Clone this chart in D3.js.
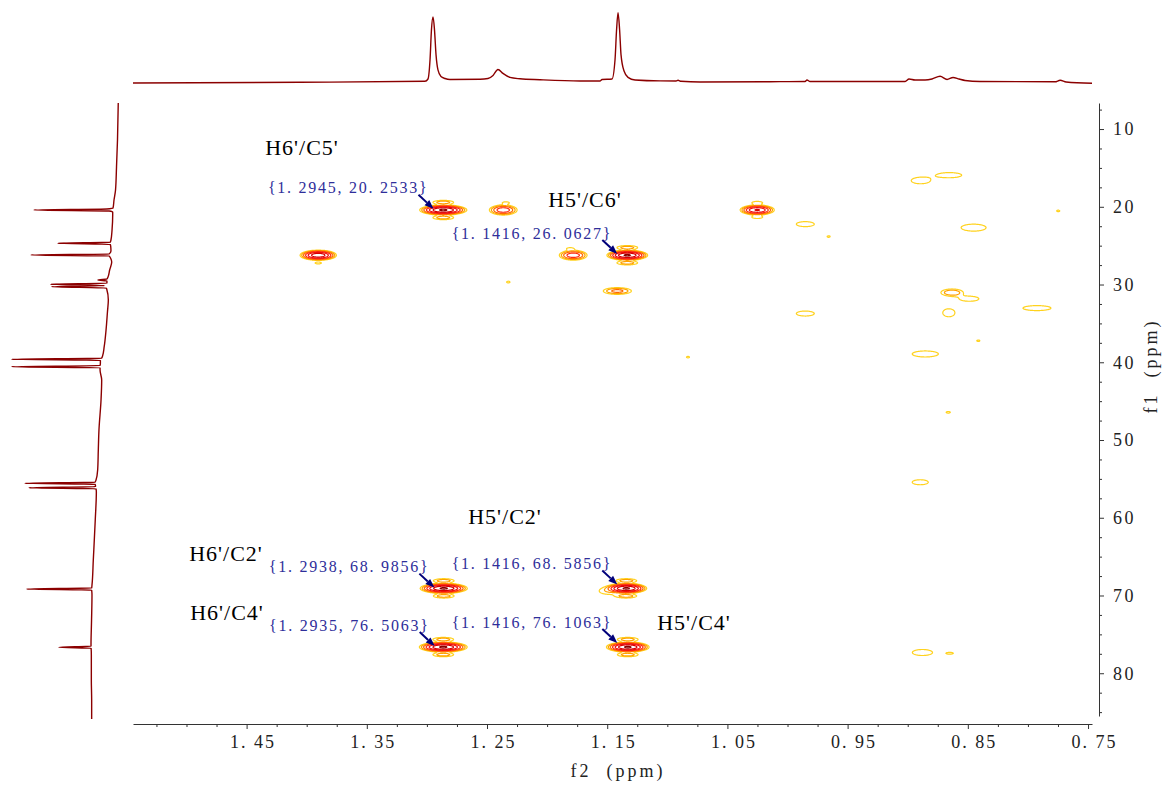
<!DOCTYPE html>
<html>
<head>
<meta charset="utf-8">
<script src="https://cdn.jsdelivr.net/npm/d3@7/dist/d3.min.js"></script>
<style>
  body { margin: 0; background: #fff; }
  svg { display: block; }
</style>
</head>
<body>
<svg id="chart" width="1166" height="787"></svg>
<script>
// ---- f2 (1H) projection on top: ppm / relative intensity ----
const topPpm = [1.5445, 1.4056, 1.3016, 1.2991, 1.2974, 1.2962, 1.2949, 1.2937, 1.2924, 1.2908,
  1.2883, 1.2849, 1.2808, 1.2558, 1.2492, 1.2450, 1.2409, 1.2367, 1.2309, 1.2226, 1.2059, 1.1726,
  1.1560, 1.1543, 1.1460, 1.1435, 1.1422, 1.1410, 1.1397, 1.1385, 1.1360, 1.1327, 1.1268, 1.1060,
  1.0927, 1.0911, 1.0886, 1.0728, 1.0062, 0.9854, 0.9838, 0.9813, 0.9022, 0.8989, 0.8939, 0.8856,
  0.8798, 0.8731, 0.8673, 0.8623, 0.8573, 0.8523, 0.8398, 0.7774, 0.7732, 0.7682, 0.7467];
const topInt = [0, 1, 2.5, 5.7, 33, 76, 94, 76, 40, 18.6,
  9.3, 6.4, 5, 5.3, 6.4, 10.7, 19.3, 13.6, 7.9, 6, 4.6, 2.9,
  2.9, 5, 5.7, 33, 76, 100, 76, 40, 17, 8, 4.3, 3,
  2.9, 3.9, 2.4, 1.4, 1.9, 2.1, 4.3, 2.1, 2.1, 5.7, 4.3, 4.3,
  5.7, 9.6, 5, 7.9, 5.7, 3.6, 2.1, 1.7, 3.9, 1.4, -0.4];

// ---- f1 (13C) projection on the left: ppm / relative intensity ----
const sidePpm = [6.65, 11.41, 14.88, 17.84, 19.13, 20.16, 20.28, 20.41, 20.54, 20.67, 21.06, 22.99,
  24.27, 24.57, 24.70, 24.83, 25.11, 25.69, 26.07, 26.20, 26.33, 26.65, 27.10, 28.13, 29.03, 29.29,
  29.42, 29.55, 29.84, 29.97, 30.13, 30.28, 30.45, 30.58, 31.99, 33.5, 35.85, 38.0, 39.19, 39.49,
  39.62, 39.75, 40.09, 40.44, 40.57, 40.70, 40.99, 42.28, 44.85, 48.71, 51.28, 53.86, 55.14, 55.44,
  55.57, 55.70, 55.85, 56.01, 56.14, 56.27, 56.69, 60.29, 65.44, 68.66, 69.04, 69.17, 69.30, 69.94,
  73.16, 76.37, 76.53, 76.66, 76.79, 77.64, 80.86, 83.43, 85.88];
const sideInt = [1.6, 2.3, 3.2, 4.1, 5.5, 6.4, 12, 79, 10, 6.7, 6.7, 7.3,
  8.3, 9, 57, 9, 8.5, 8.3, 10, 81.7, 10, 8.5, 7.6, 9.5, 11, 12,
  20.2, 12, 12, 63.6, 14, 62.7, 12.5, 12.2, 10.7, 11.5, 12.8, 14.5, 16, 17,
  99.4, 18, 18, 18.3, 99.4, 18.3, 18.3, 16.8, 17.4, 19.3, 19.9, 20.5, 22, 23,
  87.2, 23, 22.5, 22.5, 83.5, 22, 21.7, 22.7, 24.5, 25.7, 26, 85.6, 26, 25.7,
  26.1, 26.6, 26.6, 56, 26.5, 26.3, 26.3, 26, 26];

// ---- 2D cross peaks: f2 ppm, f1 ppm, height, f2 width, f1 width ----
const peakH = [
  // main cross peaks
  1.2866, 1.2367, 1.0254, 1.3906, 1.1785, 1.1335, 1.1418, 1.2862, 1.1343, 1.2866, 1.1331,
  // t1 side lobes
  1.2866, 1.2866, 1.1335, 1.1335, 1.2862, 1.2862, 1.1343, 1.1343, 1.2866, 1.2866, 1.1331, 1.1331,
  1.0254, 1.0254, 1.2345, 1.1810, 1.3906,
  // weak signals
  0.8895, 0.8655, 0.7750, 0.8454, 0.9854, 0.9660, 0.8634, 0.8490, 0.8660, 0.7927, 0.9854, 0.8415,
  0.8856, 1.0830, 0.8665, 0.8898, 0.8880, 0.8650, 1.2325, 1.1500];
const peakC = [
  20.38, 20.38, 20.38, 26.20, 26.20, 26.20, 30.80, 69.05, 69.05, 76.60, 76.60,
  19.40, 21.36, 25.22, 27.18, 68.07, 70.03, 68.07, 70.03, 75.62, 77.58, 75.62, 77.58,
  19.45, 21.30, 19.45, 25.35, 27.20,
  16.6, 15.9, 20.5, 22.65, 22.2, 23.8, 31.0, 31.8, 33.6, 33.0, 33.7, 37.2,
  38.9, 39.3, 46.4, 55.4, 77.3, 77.4, 29.65, 69.4];
const peakAmp = [
  37, 9, 20, 30, 9, 37, 4, 37, 37, 37, 37,
  2.6, 2.6, 2.6, 2.6, 2.6, 2.6, 2.6, 2.6, 2.6, 2.6, 2.6, 2.6,
  1.6, 1.6, 1.3, 1.3, 1.3,
  1.6, 1.6, 1.08, 1.6, 1.6, 1.08, 3.0, 1.6, 1.6, 1.6, 1.6, 1.08,
  1.6, 1.08, 1.15, 1.6, 1.6, 1.15, 1.1, 1.6];
const peakWH = [
  0.0073, 0.0055, 0.0058, 0.0058, 0.0055, 0.0063, 0.0070, 0.0073, 0.0063, 0.0074, 0.0066,
  0.0062, 0.0062, 0.0062, 0.0062, 0.0062, 0.0062, 0.0062, 0.0062, 0.0062, 0.0062, 0.0062, 0.0062,
  0.0045, 0.0045, 0.0035, 0.0035, 0.0035,
  0.0080, 0.0105, 0.0032, 0.0107, 0.0077, 0.0032, 0.0062, 0.0082, 0.0052, 0.0120, 0.0077, 0.0032,
  0.0112, 0.0032, 0.0032, 0.0069, 0.0086, 0.0047, 0.0032, 0.0069];
const peakWC = [
  0.24, 0.31, 0.26, 0.25, 0.30, 0.24, 0.26, 0.24, 0.24, 0.24, 0.24,
  0.19, 0.19, 0.19, 0.19, 0.19, 0.19, 0.19, 0.19, 0.19, 0.19, 0.19, 0.19,
  0.18, 0.18, 0.16, 0.16, 0.16,
  0.42, 0.34, 0.25, 0.46, 0.33, 0.25, 0.31, 0.33, 0.53, 0.33, 0.33, 0.25,
  0.40, 0.25, 0.20, 0.33, 0.40, 0.20, 0.25, 0.40];

const levels = [1, 1.8, 3.2, 5.8, 10.5, 19, 34];
const levelColors = ["#ffd21e", "#ffa200", "#ff6a00", "#ff2a10", "#f01010", "#d80000", "#8b0000"];

// ---- annotations ----
const tagText = ["H6'/C5'", "H5'/C6'", "H5'/C2'", "H6'/C2'", "H6'/C4'", "H5'/C4'"];
const tagH = [1.4039, 1.1685, 1.2350, 1.4671, 1.4663, 1.0778];
const tagC = [12.31, 19.00, 59.78, 64.54, 72.13, 73.41];
const markH = [1.2945, 1.1416, 1.2938, 1.1416, 1.2935, 1.1416];
const markC = [20.2533, 26.0627, 68.9856, 68.5856, 76.5063, 76.1063];

const xMajor = [1.45, 1.35, 1.25, 1.15, 1.05, 0.95, 0.85, 0.75];
const yMajor = [10, 20, 30, 40, 50, 60, 70, 80];

const svg = d3.select("#chart");
const x = d3.scaleLinear().domain([1.5445, 0.7467]).range([133, 1092]);
const y = d3.scaleLinear().domain([6.65, 85.5]).range([103, 716]);
const topY = d3.scaleLinear().domain([0, 100]).range([83, 12.7]);
const sideX = d3.scaleLinear().domain([0, 100]).range([120, 11]);

const xMinor = d3.range(0, 32).map(i => +(1.525 - i * 0.025).toFixed(3)).filter(v => xMajor.indexOf(v) < 0);
const yMinor = d3.range(0, 32).map(i => 7.5 + i * 2.5).filter(v => v <= 85 && yMajor.indexOf(v) < 0);
const fmtX = d => d3.format(".2f")(d).replace(".", ". ");
const fmtX4 = v => d3.format(".4f")(v).replace(".", ". ");

const serif = "'Liberation Serif', 'DejaVu Serif', serif";

// ---- projections ----
svg.append("path")
  .datum(d3.zip(topPpm, topInt))
  .attr("fill", "none")
  .attr("stroke", "#8b0000")
  .attr("stroke-width", 1.4)
  .attr("d", d3.line().x(d => x(d[0])).y(d => topY(d[1])).curve(d3.curveMonotoneX));

svg.append("path")
  .datum(d3.zip(sidePpm, sideInt))
  .attr("fill", "none")
  .attr("stroke", "#8b0000")
  .attr("stroke-width", 1.4)
  .attr("d", d3.line().x(d => sideX(d[1])).y(d => y(d[0])).curve(d3.curveMonotoneY));

// ---- contour map ----
const k = 2, gx0 = 133, gy0 = 103;
const nx = (1092 - gx0) * k, ny = (716 - gy0) * k;
const grid = new Float64Array(nx * ny);
peakH.forEach((h, p) => {
  const cx = x(h), cy = y(peakC[p]);
  const sx = Math.abs(x(h + peakWH[p]) - cx);
  const sy = Math.abs(y(peakC[p] + peakWC[p]) - cy);
  const i0 = Math.max(0, Math.floor((cx - 4 * sx - gx0) * k));
  const i1 = Math.min(nx - 1, Math.ceil((cx + 4 * sx - gx0) * k));
  const j0 = Math.max(0, Math.floor((cy - 4 * sy - gy0) * k));
  const j1 = Math.min(ny - 1, Math.ceil((cy + 4 * sy - gy0) * k));
  for (let j = j0; j <= j1; j++) {
    const dy = (gy0 + j / k - cy) / sy;
    for (let i = i0; i <= i1; i++) {
      const dx = (gx0 + i / k - cx) / sx;
      grid[j * nx + i] += peakAmp[p] * Math.exp(-0.5 * (dx * dx + dy * dy));
    }
  }
});
const contours = d3.contours().size([nx, ny]).thresholds(levels)(grid);
const cpath = d3.geoPath(d3.geoIdentity().scale(1 / k).translate([gx0, gy0]));
svg.append("g")
  .selectAll("path")
  .data(contours)
  .join("path")
  .attr("d", cpath)
  .attr("fill", "none")
  .attr("stroke", (d, i) => levelColors[i])
  .attr("stroke-width", 1.2);

// ---- axes ----
const gx = svg.append("g").attr("transform", "translate(0,724)");
gx.call(d3.axisBottom(x).tickValues(xMajor).tickSize(5).tickSizeOuter(0).tickFormat(fmtX));
gx.append("g").call(d3.axisBottom(x).tickValues(xMinor).tickSize(3).tickFormat(""))
  .select(".domain").remove();
gx.selectAll(".domain, line").attr("stroke", "#333");
gx.selectAll("text")
  .attr("y", 24).attr("dy", null).attr("dx", 6)
  .attr("font-family", serif).attr("font-size", 18)
  .attr("letter-spacing", 2).attr("fill", "#222");

const gy = svg.append("g").attr("transform", "translate(1099,0)");
gy.call(d3.axisRight(y).tickValues(yMajor).tickSize(5).tickSizeOuter(0));
gy.append("g").call(d3.axisRight(y).tickValues(yMinor).tickSize(3).tickFormat(""))
  .select(".domain").remove();
gy.selectAll(".domain, line").attr("stroke", "#333");
gy.selectAll("text")
  .attr("x", 14)
  .attr("font-family", serif).attr("font-size", 18)
  .attr("letter-spacing", 2.5).attr("fill", "#222");

svg.append("text")
  .attr("x", 618).attr("y", 777)
  .attr("text-anchor", "middle")
  .attr("font-family", serif).attr("font-size", 18)
  .attr("letter-spacing", 3).attr("fill", "#222")
  .style("white-space", "pre")
  .text("f2  (ppm)");

svg.append("text")
  .attr("transform", "translate(1157,366) rotate(-90)")
  .attr("text-anchor", "middle")
  .attr("font-family", serif).attr("font-size", 18)
  .attr("letter-spacing", 3).attr("fill", "#222")
  .style("white-space", "pre")
  .text("f1  (ppm)");

// ---- assignment labels ----
svg.append("g")
  .selectAll("text")
  .data(tagText)
  .join("text")
  .attr("x", (d, i) => x(tagH[i]))
  .attr("y", (d, i) => y(tagC[i]))
  .attr("dy", "0.35em")
  .attr("text-anchor", "middle")
  .attr("font-family", serif)
  .attr("font-size", 22)
  .attr("letter-spacing", 1)
  .attr("fill", "#000")
  .text(d => d);

// ---- peak coordinate markers ----
const marks = svg.append("g");
markH.forEach((h, i) => {
  const tx = x(h), ty = y(markC[i]);
  marks.append("text")
    .attr("x", tx - 5).attr("y", ty - 21)
    .attr("dy", "0.35em")
    .attr("text-anchor", "end")
    .attr("font-family", serif)
    .attr("font-size", 16)
    .attr("letter-spacing", 1.75)
    .attr("fill", "#2e2e9a")
    .text("{" + fmtX4(h) + ", " + fmtX4(markC[i]) + "}");
  // arrow from the label towards the peak
  const ang = Math.atan2(13, 14);
  const bx = tx - 9 * Math.cos(ang), by = ty - 9 * Math.sin(ang);
  const nxv = -Math.sin(ang), nyv = Math.cos(ang);
  marks.append("line")
    .attr("x1", tx - 15).attr("y1", ty - 14)
    .attr("x2", bx).attr("y2", by)
    .attr("stroke", "#00007a").attr("stroke-width", 2);
  marks.append("path")
    .attr("d", `M${tx},${ty}L${bx + 3.5 * nxv},${by + 3.5 * nyv}L${bx - 3.5 * nxv},${by - 3.5 * nyv}Z`)
    .attr("fill", "#00007a");
});
</script>
</body>
</html>
